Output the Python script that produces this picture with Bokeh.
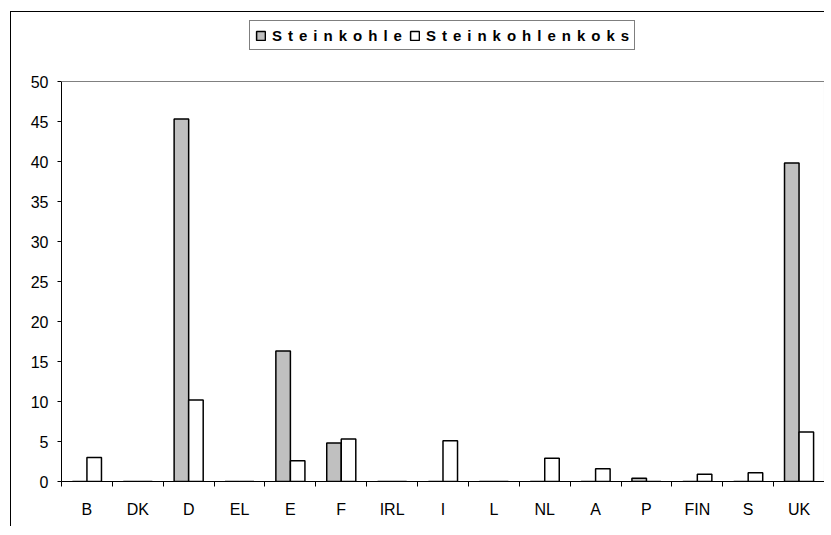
import numpy as np
from bokeh.plotting import figure
from bokeh.models import ColumnDataSource, FixedTicker, Range1d, Legend, LegendItem, Span
from bokeh.transform import dodge
from bokeh.embed import file_html
from bokeh.resources import INLINE

countries = ["B", "DK", "D", "EL", "E", "F", "IRL", "I", "L", "NL", "A", "P", "FIN", "S", "UK"]
steinkohle = [0, 0, 45.3, 0, 16.3, 4.8, 0, 0, 0, 0, 0, 0.4, 0, 0, 39.8]
koks = [3.0, 0, 10.2, 0, 2.6, 5.3, 0, 5.1, 0, 2.9, 1.6, 0, 0.9, 1.1, 6.2]
series_names = ["Steinkohle", "Steinkohlenkoks"]
y_ticks = [0, 5, 10, 15, 20, 25, 30, 35, 40, 45, 50]

n = len(countries)
ymax = y_ticks[-1]
xpos = [i + 0.5 for i in range(n)]
src = ColumnDataSource(dict(x=xpos, s=steinkohle, k=koks))

FONT = "Liberation Sans"
bar_w = 1 / 3.5

# frame extends above the plot area so that the legend can live inside it
p = figure(width=814, height=515, output_backend="svg", toolbar_location=None,
           x_range=Range1d(0, n + 0.02), y_range=Range1d(0, ymax + 69 / 8),
           min_border_left=50, min_border_right=0, min_border_top=0, min_border_bottom=46,
           styles={"margin-left": "10px", "margin-top": "11px",
                   "border-left": "1px solid #000000", "border-top": "1px solid #000000"})

p.outline_line_color = None
p.xgrid.visible = False
p.ygrid.visible = False

# plot-area border (top and right, grey)
p.add_layout(Span(location=ymax, dimension="width", line_color="#808080", line_width=1))
p.segment(x0=[n], y0=[0], x1=[n], y1=[ymax], line_color="#808080", line_width=1)

r1 = p.vbar(x=dodge("x", -bar_w / 2), top="s", width=bar_w, source=src,
            fill_color="#C0C0C0", line_color="#000000", line_width=1.5)
r2 = p.vbar(x=dodge("x", bar_w / 2), top="k", width=bar_w, source=src,
            fill_color="#FFFFFF", line_color="#000000", line_width=1.5)

# x axis: labels at category centres, tick marks at category boundaries
p.xaxis.ticker = FixedTicker(ticks=xpos, minor_ticks=list(range(n + 1)))
p.xaxis.bounds = (0, n)
p.xaxis.major_label_overrides = {x: c for x, c in zip(xpos, countries)}
p.xaxis.major_tick_line_color = None
p.xaxis.major_tick_out = 5
p.xaxis.major_tick_in = 0
p.xaxis.minor_tick_line_color = "#000000"
p.xaxis.minor_tick_out = 5
p.xaxis.minor_tick_in = 0
p.xaxis.major_label_standoff = 14
p.xaxis.axis_line_color = "#000000"

p.yaxis.ticker = FixedTicker(ticks=y_ticks, minor_ticks=[])
p.yaxis.bounds = (0, ymax)
p.yaxis.major_tick_out = 4
p.yaxis.major_tick_in = 0
p.yaxis.major_tick_line_color = "#000000"
p.yaxis.axis_line_color = "#000000"
p.yaxis.major_label_standoff = 9

for ax in (p.xaxis[0], p.yaxis[0]):
    ax.major_label_text_font = FONT
    ax.major_label_text_font_size = "16px"
    ax.major_label_text_color = "#000000"

def spaced(s):
    return "\u2009\u2009".join(s)

legend = Legend(items=[LegendItem(label=spaced(series_names[0]), renderers=[r1]),
                       LegendItem(label=spaced(series_names[1]), renderers=[r2])],
                orientation="horizontal", location=(188, 431),
                label_text_font=FONT, label_text_font_size="15px",
                label_text_font_style="bold", label_text_color="#000000",
                glyph_width=11, glyph_height=11, label_standoff=6, spacing=7,
                padding=5, margin=0, label_height=18,
                border_line_color="#000000", border_line_width=1,
                background_fill_color="#FFFFFF", background_fill_alpha=1.0)
p.add_layout(legend, "center")

open("out.html", "w").write(file_html(p, INLINE))
